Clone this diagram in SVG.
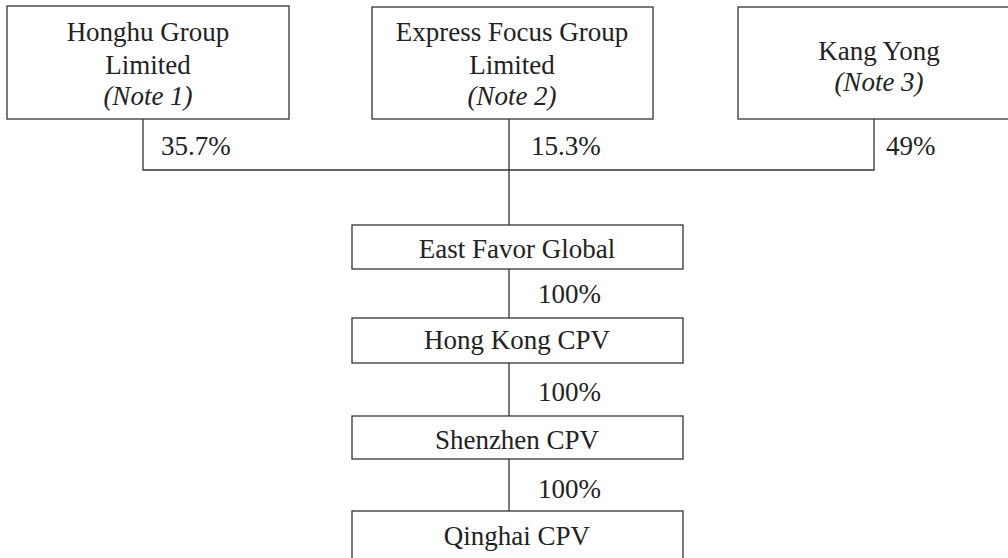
<svg xmlns="http://www.w3.org/2000/svg" width="1008" height="558" viewBox="0 0 1008 558">
<style>
.box{fill:#fff;stroke:#333;stroke-width:1.3}
.t{font-family:"Liberation Serif","Times New Roman",serif;font-size:27px;fill:#222;text-anchor:middle}
.i{font-style:italic}
.p{font-family:"Liberation Serif","Times New Roman",serif;font-size:27px;fill:#222}
.c{stroke:#333;stroke-width:1.3;fill:none}
</style>
<rect width="1008" height="558" fill="#fff"/>
<g id="connectors">
<path class="c" d="M143,119V170H874V119M509,119V225M509,269V318M509,363V416M509,459V511"/>
<text class="p" x="161" y="155">35.7%</text>
<text class="p" x="531" y="155">15.3%</text>
<text class="p" x="886" y="155">49%</text>
<text class="p" x="538" y="303">100%</text>
<text class="p" x="538" y="401">100%</text>
<text class="p" x="538" y="498">100%</text>
</g>
<g id="honghu">
<rect class="box" x="7" y="6" width="282" height="113"/>
<text class="t" x="148" y="41">Honghu Group</text>
<text class="t" x="148" y="74">Limited</text>
<text class="t i" x="148" y="105">(Note 1)</text>
</g>
<g id="express">
<rect class="box" x="372" y="7" width="281" height="112"/>
<text class="t" x="512" y="41">Express Focus Group</text>
<text class="t" x="512" y="74">Limited</text>
<text class="t i" x="512" y="105">(Note 2)</text>
</g>
<g id="kangyong">
<rect class="box" x="738" y="7" width="275" height="112"/>
<text class="t" x="879" y="60">Kang Yong</text>
<text class="t i" x="879" y="91">(Note 3)</text>
</g>
<g id="eastfavor">
<rect class="box" x="352" y="225" width="331" height="44"/>
<text class="t" x="517" y="258">East Favor Global</text>
</g>
<g id="hkcpv">
<rect class="box" x="352" y="318" width="331" height="45"/>
<text class="t" x="517" y="349">Hong Kong CPV</text>
</g>
<g id="szcpv">
<rect class="box" x="352" y="416" width="331" height="43"/>
<text class="t" x="517" y="449">Shenzhen CPV</text>
</g>
<g id="qhcpv">
<rect class="box" x="352" y="511" width="331" height="52"/>
<text class="t" x="517" y="545">Qinghai CPV</text>
</g>
</svg>
